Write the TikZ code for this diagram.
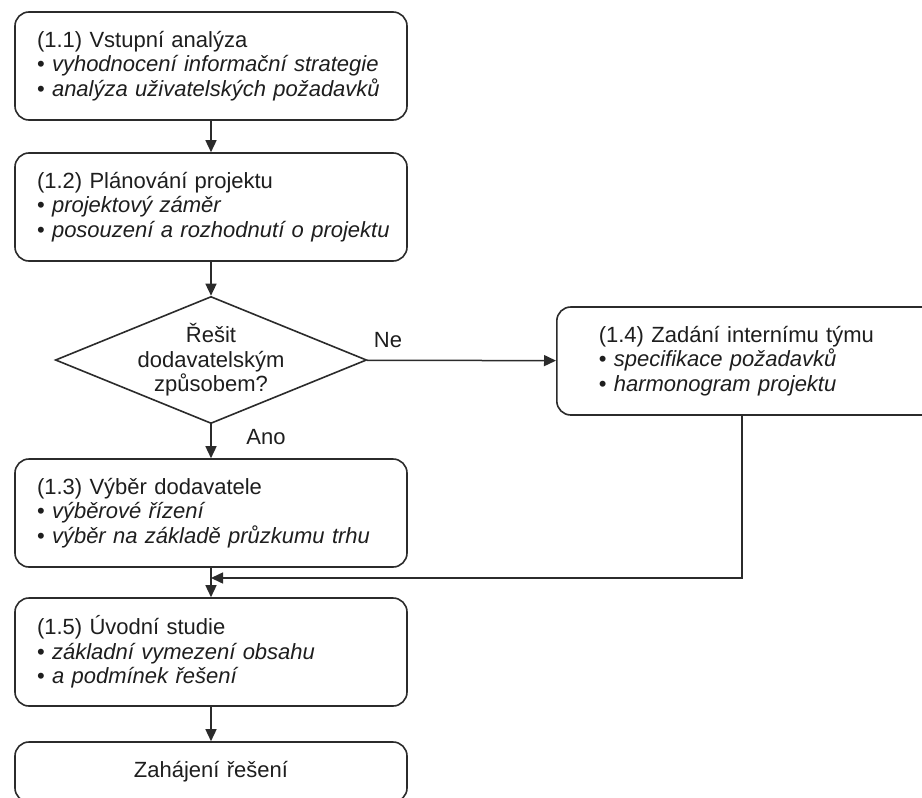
\documentclass[tikz,border=0pt]{standalone}
\usepackage{fontspec}
\setmainfont{Liberation Sans}
\usepackage{xcolor}
\usepackage{tikz}
\usetikzlibrary{positioning,shapes.geometric,arrows.meta}

\definecolor{linec}{HTML}{2B2B2B}
\definecolor{textc}{HTML}{1E1E1E}

\tikzset{
	stage/.style={draw=linec, line width=1.6pt, rounded corners=14pt, align=left, text width=348pt, inner xsep=22pt, inner ysep=6pt, minimum height=108pt, text=textc},
	decide/.style={draw=linec, line width=1.6pt, diamond, aspect=2.45, inner sep=-2pt, align=center, text=textc},
	flow/.style={draw=linec, line width=1.5pt, -{Triangle[length=12pt,width=11pt]}},
	lbl/.style={text=textc}
}

\newcommand{\pt}[1]{\mbox{\textbullet\ \textit{#1}}}

\begin{document}
\begin{tikzpicture}[x=1pt,y=-1pt, font=\fontsize{22}{24.5}\selectfont]
	\useasboundingbox (0,0) rectangle (922,798);
	\clip (0,0) rectangle (922,798);
	\fill[white] (0,0) rectangle (922,798);

	\node[stage] (b11) at (211,66) {(1.1) Vstupní analýza\\ \pt{vyhodnocení informační strategie}\\ \pt{analýza uživatelských požadavků}};
	\node[stage] (b12) at (211,207) {(1.2) Plánování projektu\\ \pt{projektový záměr}\\ \pt{posouzení a rozhodnutí o projektu}};
	\node[decide] (dec) at (211,360) {Řešit\\ dodavatelským\\ způsobem?};
	\node[stage, anchor=west, text width=316pt, inner xsep=42pt] (b14) at (556,361) {(1.4) Zadání internímu týmu\\ \pt{specifikace požadavků}\\ \pt{harmonogram projektu}};
	\node[stage] (b13) at (211,513) {(1.3) Výběr dodavatele\\ \pt{výběrové řízení}\\ \pt{výběr na základě průzkumu trhu}};
	\node[stage] (b15) at (211,652) {(1.5) Úvodní studie\\ \pt{základní vymezení obsahu}\\ \pt{a podmínek řešení}};
	\node[stage, align=center, minimum height=60pt] (b16) at (211,772) {Zahájení řešení};

	\node[lbl] (ne) at (388,340) {Ne};
	\node[lbl] (ano) at (266,437) {Ano};
	\coordinate (join) at (211,578);

	\draw[flow] (b11) -- (b12);
	\draw[flow] (b12) -- (dec);
	\draw[flow] (dec) -- (b13);
	\draw[flow] (dec) -- (b14);
	\draw[flow] (b13) -- (b15);
	\draw[flow] ([xshift=186pt]b14.south west) |- (join);
	\draw[flow] (b15) -- (b16);
\end{tikzpicture}
\end{document}
